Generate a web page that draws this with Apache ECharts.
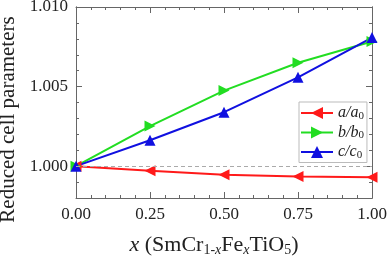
<!DOCTYPE html>
<html><head><meta charset="utf-8">
<script src="https://cdn.jsdelivr.net/npm/echarts@6/dist/echarts.min.js"></script>
<style>html,body{margin:0;padding:0;background:#fff}#c{width:390px;height:262px}</style>
</head><body><div id="c"></div>
<script>
var xValues = [0.00, 0.25, 0.50, 0.75, 1.00];
var aRatio = [1.00000, 0.99971, 0.99946, 0.99935, 0.99930];
var bRatio = [1.00000, 1.00252, 1.00475, 1.00650, 1.00783];
var cRatio = [1.00000, 1.00163, 1.00339, 1.00558, 1.00808];
var yMajorTicks = [1.000, 1.005, 1.010];
var yMinorTicks = [0.998, 0.999, 1.001, 1.002, 1.003, 1.004, 1.006, 1.007, 1.008, 1.009];

function pairs(vals){ return xValues.map(function(x,i){ return [x, vals[i]]; }); }
var F = 'Liberation Serif';
var axisCol = '#666';
var chart = echarts.init(document.getElementById('c'));
function xAx(pos, labels){
  return {type:'value', position:pos, min:0, max:1, interval:0.25,
    axisLine:{show:true, onZero:false, lineStyle:{color:axisCol, width:1}},
    axisTick:{show:true, inside:true, length:6, lineStyle:{color:axisCol}},
    minorTick:{show:true, splitNumber:5, length:3, lineStyle:{color:axisCol}},
    splitLine:{show:false},
    axisLabel:{show:labels, fontFamily:F, fontSize:17, color:'#222', margin:8,
      formatter:function(v){return v.toFixed(2);}}
  };
}
function yAx(pos, labels, ticks, len){
  return {type:'value', position:pos, min:0.998, max:1.010,
    axisLine:{show:true, onZero:false, lineStyle:{color:axisCol, width:1}},
    axisTick:{show:true, inside:true, length:len, customValues:ticks, lineStyle:{color:axisCol}},
    splitLine:{show:false},
    axisLabel:{show:labels, customValues:ticks, fontFamily:F, fontSize:17, color:'#222', margin:8,
      formatter:function(v){return v.toFixed(3);}}
  };
}
var xa = xAx('bottom', true);
xa.name = '{i|x}{n| (SmCr}{s|1-}{si|x}{n|Fe}{si|x}{n|TiO}{s|5}{n|)}';
xa.nameLocation = 'middle';
xa.nameGap = 36;
xa.nameTextStyle = {fontFamily:F, fontSize:22, color:'#222', padding:[0,20,0,0], rich:{
  i:{fontFamily:F, fontStyle:'italic', fontSize:22, color:'#222'},
  n:{fontFamily:F, fontSize:22, color:'#222'},
  s:{fontFamily:F, fontSize:14, color:'#222', padding:[9,0,0,0]},
  si:{fontFamily:F, fontSize:14, fontStyle:'italic', color:'#222', padding:[9,0,0,0]}
}};
var ya = yAx('left', true, yMajorTicks, 6);
ya.name = 'Reduced cell parameters';
ya.nameLocation = 'middle';
ya.nameGap = 52;
ya.nameTextStyle = {fontFamily:F, fontSize:21, color:'#222', padding:[0,34,0,0]};

function series(name, vals, color, rot){
  return {name:name, type:'line', data:pairs(vals), xAxisIndex:0, yAxisIndex:0,
    symbol:'triangle', symbolSize:11, symbolRotate:rot,
    lineStyle:{color:color, width:2}, itemStyle:{color:color},
    emphasis:{disabled:true}};
}
var sa = series('a', aRatio, '#ff1a1a', 90);
sa.markLine = {silent:true, symbol:'none', label:{show:false},
  lineStyle:{color:'#aaa', type:[4,3], width:1}, data:[{yAxis:1.000}]};
chart.setOption({
  animation:false,
  grid:{left:76, right:18, top:7, bottom:64, containLabel:false, outerBoundsMode:'none'},
  xAxis:[xa, xAx('top', false)],
  yAxis:[ya, yAx('right', false, yMajorTicks, 6), yAx('left', false, yMinorTicks, 3), yAx('right', false, yMinorTicks, 3)],
  legend:{left:299, top:102, orient:'vertical', itemWidth:32, itemHeight:15, itemGap:3,
    padding:[3,3,2,1], borderColor:'#bbb', borderWidth:1, backgroundColor:'#fff',
    symbolRotate:'inherit',
    data:['a','b','c'],
    formatter:function(n){return '{i|'+n+'}{n|/}{i|'+n+'}{s|0}';},
    textStyle:{fontFamily:F, fontSize:16, color:'#222', rich:{
      i:{fontFamily:F, fontStyle:'italic', fontSize:16, color:'#222'},
      n:{fontFamily:F, fontStyle:'italic', fontSize:16, color:'#222'},
      s:{fontFamily:F, fontSize:11, color:'#222', padding:[6,0,0,0]}
    }}
  },
  series:[sa, series('b', bRatio, '#22dd22', -90), series('c', cRatio, '#1010e0', 0)]
});
</script></body></html>
